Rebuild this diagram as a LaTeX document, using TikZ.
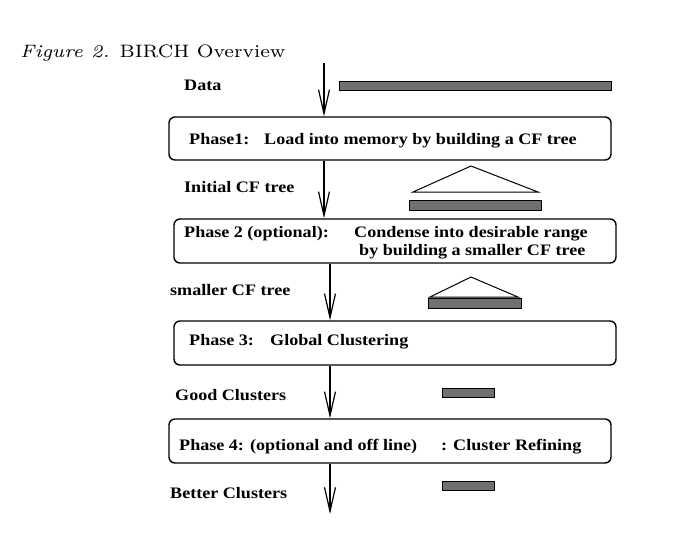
\documentclass[tikz,border=0pt]{standalone}
\usepackage{fontspec}
\setmainfont{Liberation Serif}
\newfontfamily\lmfont{lmroman7-regular.otf}[ItalicFont=lmroman7-italic.otf, FakeStretch=1.06]
\newfontfamily\lblfont[FakeStretch=1.13]{Liberation Serif}
\usetikzlibrary{arrows.meta}
\definecolor{barfill}{RGB}{112,112,112}
\tikzset{
  phasebox/.style={draw, line width=1.4pt, rounded corners=6pt, minimum width=442pt, inner sep=0pt},
  flow/.style={line width=1.2pt, -{Straight Barb[length=24pt,width=11pt,line width=1.2pt]}},
  bar/.style={draw, line width=1pt, fill=barfill},
  tri/.style={draw, line width=1pt, fill=white},
  lbl/.style={font=\lblfont\fontsize{16}{18}\selectfont\bfseries, anchor=base west, inner sep=0pt},
}
\begin{document}
\begin{tikzpicture}[x=1pt,y=-1pt]
\useasboundingbox (0,0) rectangle (700,552);
% caption
\node[anchor=base west, inner sep=0pt, font=\lmfont\fontsize{18}{20}\selectfont] (cap) at (20,57) {\textit{Figure 2.} BIRCH Overview};
% boxes
\node[phasebox, minimum height=43pt] (b1) at (390,138.5) {};
\node[phasebox, minimum height=44pt] (b2) at (395,241) {};
\node[phasebox, minimum height=44pt] (b3) at (395,343) {};
\node[phasebox, minimum height=44pt] (b4) at (390,441) {};
% box texts
\node[lbl] (t1a) at (189,144) {Phase1:};
\node[lbl] (t1b) at (264,144) {Load into memory by building a CF tree};
\node[lbl] (t2a) at (184,237) {Phase 2 (optional):};
\node[lbl] (t2b) at (354,237) {Condense into desirable range};
\node[lbl] (t2c) at (359,255) {by building a smaller CF tree};
\node[lbl] (t3a) at (189,345) {Phase 3:};
\node[lbl] (t3b) at (270,345) {Global Clustering};
\node[lbl] (t4a) at (179,450) {Phase 4: (optional and off line)};
\node[lbl] (t4b) at (441,450) {: Cluster Refining};
% side labels
\node[lbl] (l0) at (184,90) {Data};
\node[lbl] (l1) at (184,192) {Initial CF tree};
\node[lbl] (l2) at (170,295) {smaller CF tree};
\node[lbl] (l3) at (175,400) {Good Clusters};
\node[lbl] (l4) at (170,498) {Better Clusters};
% arrows
\coordinate (a0) at (324,63);
\coordinate (a4) at (330,514);
\draw[flow] (a0) -- (a0 |- b1.north);
\draw[flow] (b1.south -| a0) -- (b2.north -| a0);
\draw[flow] (330,0 |- b2.south) -- (330,0 |- b3.north);
\draw[flow] (330,0 |- b3.south) -- (330,0 |- b4.north);
\draw[flow] (a4 |- b4.south) -- (a4);
% data pictograms
\draw[bar] (339,81) rectangle (611,90);
\draw[tri] (413,192) -- (471,166) -- (538,192) -- cycle;
\draw[bar] (409,200) rectangle (541,210);
\draw[tri] (430,297) -- (471,277) -- (518,297) -- cycle;
\draw[bar] (428,298) rectangle (521,308);
\draw[bar] (442,388) rectangle (494,397);
\draw[bar] (442,481) rectangle (494,490);
\end{tikzpicture}
\end{document}
